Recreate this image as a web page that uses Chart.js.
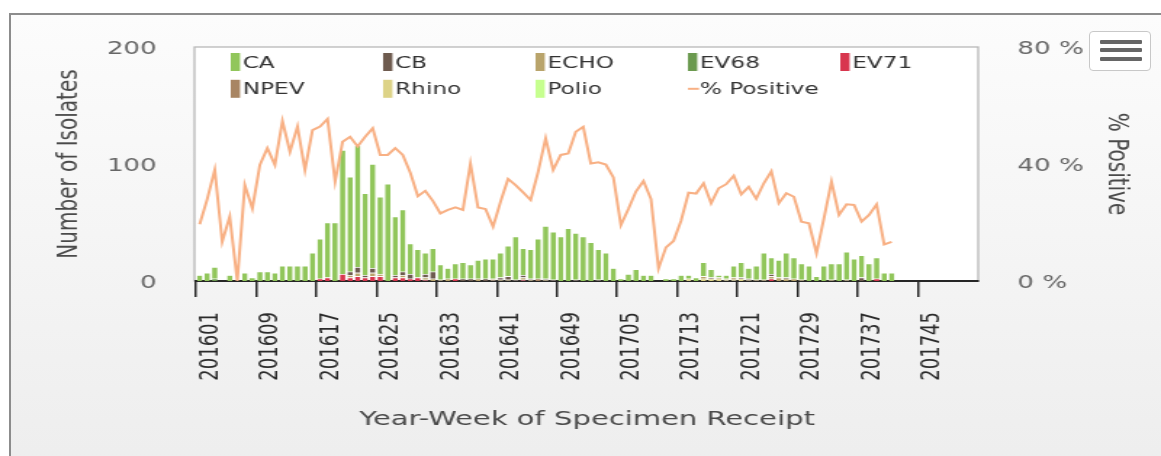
<!DOCTYPE html>
<html>
<head>
<meta charset="utf-8">
<title>Isolates by week of specimen receipt</title>
<script src="https://cdn.jsdelivr.net/npm/chart.js@4.4.1/dist/chart.umd.min.js"></script>
<style>
  html, body { margin: 0; padding: 0; background: #fff; overflow: hidden; }
  body { width: 1161px; height: 456px; position: relative; }
  #frame {
    position: absolute; left: 9px; top: 13px; width: 1200px; height: 500px;
    border-left: 2px solid #8c8c8c; border-top: 2px solid #8c8c8c;
    background: linear-gradient(#fcfcfc, #ececec);
  }
  /* the reference is stretched sideways, so the chart is drawn narrow and widened */
  #wrap {
    position: absolute; left: 0; top: 0; width: 800px; height: 456px;
    transform: scaleX(1.45125); transform-origin: 0 0;
  }
  #menu {
    position: absolute; left: 1089px; top: 31px; width: 62px; height: 40px;
    box-sizing: border-box; border: 1px solid #c8c8c8; border-radius: 4px; background: #fff;
  }
  #menu span { position: absolute; left: 10px; width: 42px; height: 4px; background: #666; border-radius: 1px; }
</style>
</head>
<body>
<div id="frame"></div>
<div id="wrap"><canvas id="chart" width="800" height="456"></canvas></div>
<div id="menu"><span style="top:8px"></span><span style="top:16px"></span><span style="top:25px"></span></div>

<script>
// weeks 201601 .. 201752
const years = [2016, 2017];
const weeks = [];
years.forEach(function (y) {
  for (let w = 1; w <= 52; w++) weeks.push(String(y) + String(w).padStart(2, "0"));
});

// isolates per week, 201601 .. 201741
const CA = [
  5, 7, 10, 0, 5, 0, 7, 3, 8, 8,
  7, 13, 13, 13, 13, 24, 34, 47, 50, 106,
  81, 104, 70, 89, 66, 83, 50, 53, 26, 24,
  18, 20, 13, 9, 13, 14, 12, 16, 17, 17,
  21, 26, 37, 23, 25, 34, 45, 41, 38, 45,
  40, 38, 33, 26, 24, 11, 2, 6, 10, 5,
  5, 0, 2, 2, 5, 3, 3, 12, 7, 2,
  3, 10, 13, 9, 12, 23, 14, 15, 21, 18,
  14, 13, 4, 13, 14, 15, 24, 19, 19, 15,
  18, 7, 7
];
const CB = [
  0, 0, 0, 0, 0, 0, 0, 0, 0, 0,
  0, 0, 0, 0, 0, 0, 0, 0, 0, 0,
  3, 5, 2, 4, 0, 0, 2, 3, 4, 0,
  3, 6, 0, 0, 0, 2, 2, 0, 2, 0,
  2, 3, 1, 2, 1, 0, 1, 1, 0, 0,
  1, 0, 0, 1, 0, 0, 0, 0, 0, 0,
  0, 0, 0, 0, 0, 0, 0, 0, 1, 0,
  0, 0, 1, 1, 0, 0, 2, 0, 1, 0,
  0, 0, 0, 0, 0, 0, 0, 0, 3, 0,
  0, 0, 0
];
const ECHO = [
  0, 0, 0, 0, 0, 0, 0, 0, 0, 0,
  0, 0, 0, 0, 0, 0, 0, 0, 0, 0,
  2, 3, 0, 3, 2, 0, 0, 2, 0, 0,
  2, 2, 1, 2, 0, 0, 0, 2, 0, 1,
  1, 1, 0, 2, 1, 0, 1, 0, 0, 0,
  0, 0, 0, 0, 0, 0, 0, 0, 0, 0,
  0, 0, 0, 0, 0, 0, 0, 2, 0, 1,
  1, 2, 0, 1, 1, 1, 2, 3, 2, 2,
  1, 0, 0, 0, 1, 0, 1, 0, 0, 0,
  0, 0, 0
];
const EV68 = [
  0, 0, 2, 0, 0, 0, 0, 0, 0, 0,
  0, 0, 0, 0, 0, 0, 0, 0, 0, 0,
  0, 0, 0, 0, 0, 0, 0, 0, 0, 0,
  0, 0, 0, 0, 0, 0, 0, 0, 0, 0,
  0, 0, 0, 0, 0, 0, 0, 0, 0, 0,
  0, 0, 0, 0, 0, 0, 0, 0, 0, 0,
  0, 0, 0, 0, 0, 0, 0, 0, 0, 0,
  0, 0, 0, 0, 0, 0, 0, 0, 0, 0,
  0, 0, 0, 0, 0, 0, 0, 0, 0, 0,
  0, 0, 0
];
const EV71 = [
  0, 0, 0, 0, 0, 0, 0, 0, 0, 0,
  0, 0, 0, 0, 0, 0, 2, 3, 0, 6,
  3, 4, 3, 4, 4, 0, 3, 3, 2, 3,
  1, 0, 0, 0, 2, 0, 0, 0, 0, 0,
  0, 0, 0, 1, 0, 0, 0, 0, 0, 0,
  0, 0, 0, 0, 0, 0, 0, 0, 0, 0,
  0, 0, 0, 0, 0, 0, 0, 0, 0, 0,
  0, 0, 0, 0, 0, 0, 2, 0, 0, 0,
  0, 0, 0, 0, 0, 0, 0, 0, 0, 0,
  2, 0, 0
];
const NPEV = [
  0, 0, 0, 0, 0, 0, 0, 0, 0, 0,
  0, 0, 0, 0, 0, 0, 0, 0, 0, 0,
  0, 0, 0, 0, 0, 0, 0, 0, 0, 0,
  0, 0, 0, 0, 0, 0, 0, 0, 0, 1,
  0, 0, 0, 0, 0, 2, 0, 0, 0, 0,
  0, 0, 0, 0, 0, 0, 0, 0, 0, 0,
  0, 0, 0, 0, 0, 0, 0, 0, 0, 0,
  0, 0, 0, 0, 0, 0, 0, 0, 0, 0,
  0, 0, 0, 0, 0, 0, 0, 0, 0, 0,
  0, 0, 0
];
const Rhino = [
  0, 0, 0, 0, 0, 0, 0, 0, 0, 0,
  0, 0, 0, 0, 0, 0, 0, 0, 0, 0,
  0, 0, 0, 0, 0, 0, 0, 0, 0, 0,
  0, 0, 0, 0, 0, 0, 0, 0, 0, 0,
  0, 0, 0, 0, 0, 0, 0, 0, 0, 0,
  0, 0, 0, 0, 0, 0, 0, 0, 0, 0,
  0, 0, 0, 0, 0, 2, 0, 2, 2, 2,
  1, 1, 2, 0, 0, 0, 0, 0, 0, 0,
  0, 0, 0, 0, 0, 0, 0, 0, 0, 0,
  0, 0, 0
];
const Polio = [
  0, 0, 0, 0, 0, 0, 0, 0, 0, 0,
  0, 0, 0, 0, 0, 0, 0, 0, 0, 0,
  0, 0, 0, 0, 0, 0, 0, 0, 0, 0,
  0, 0, 0, 0, 0, 0, 0, 0, 0, 0,
  0, 0, 0, 0, 0, 0, 0, 0, 0, 0,
  0, 0, 0, 0, 0, 0, 0, 0, 0, 0,
  0, 0, 0, 0, 0, 0, 0, 0, 0, 0,
  0, 0, 0, 0, 0, 0, 0, 0, 0, 0,
  0, 0, 0, 0, 0, 0, 0, 0, 0, 0,
  0, 0, 0
];
// % of specimens positive
const pctPositive = [
  19.4, 28, 38, 13.4, 22, 0, 32.8, 24.8, 39.7, 45.4,
  39.7, 54.7, 44.2, 52.8, 38, 51.6, 52.8, 55.4, 34, 47.6,
  49.3, 46, 49.3, 52.2, 43.1, 43.1, 45.4, 43.1, 37, 29,
  30.8, 27.4, 23.1, 24.3, 25.2, 24.3, 40.1, 25.1, 24.6, 18.6,
  27.1, 34.9, 32.8, 30.3, 27.7, 37.4, 48.8, 38, 43.1, 43.6,
  51, 52.7, 40.2, 40.6, 39.8, 35.4, 19.1, 24.6, 30.6, 34.2,
  28, 4.3, 11.5, 13.7, 20.6, 30.2, 29.9, 33.4, 26.6, 31.7,
  33.1, 36, 29.6, 32.2, 28.1, 33.4, 37.5, 26.6, 30, 28.8,
  20.3, 19.7, 9.5, 21.4, 34, 22.6, 26.2, 26, 20.3, 22.6,
  26.2, 12.5, 13.4
];

const legendOrder = ["CA", "CB", "ECHO", "EV68", "EV71", "NPEV", "Rhino", "Polio", "% Positive"];
const FONT = '"DejaVu Sans", sans-serif';

function barSet(label, data, color) {
  return {
    type: "bar",
    label: label,
    data: data,
    backgroundColor: color,
    borderColor: "#ffffff",
    borderWidth: { top: 0.7, bottom: 0, left: 0, right: 0 },
    borderSkipped: false,
    barPercentage: 0.72,
    categoryPercentage: 1,
    yAxisID: "y",
  };
}

// white plot area with a grey frame
const plotBox = {
  id: "plotBox",
  beforeDraw(chart) {
    const ctx = chart.ctx, a = chart.chartArea;
    ctx.save();
    ctx.fillStyle = "#ffffff";
    ctx.fillRect(a.left, a.top, a.width, a.height);
    ctx.strokeStyle = "#b8b8b8";
    ctx.lineWidth = 1.3;
    ctx.strokeRect(a.left - 1, a.top, a.width + 1, a.height);
    ctx.restore();
  },
};

// legend laid out in fixed columns inside the plot, like the original
const gridLegend = {
  id: "gridLegend",
  afterDraw(chart) {
    const ctx = chart.ctx, a = chart.chartArea;
    ctx.save();
    ctx.font = "16px " + FONT;
    ctx.textBaseline = "middle";
    legendOrder.forEach(function (name, k) {
      const ds = chart.data.datasets.find((d) => d.label === name);
      const x = a.left + 24 + (k % 5) * 105;
      const y = a.top + 15 + Math.floor(k / 5) * 26.8;
      if (ds.type === "line") {
        ctx.strokeStyle = ds.borderColor;
        ctx.lineWidth = 2;
        ctx.beginPath();
        ctx.moveTo(x, y);
        ctx.lineTo(x + 7.6, y);
        ctx.stroke();
      } else {
        ctx.fillStyle = ds.backgroundColor;
        ctx.fillRect(x, y - 9, 6.4, 18);
      }
      ctx.fillStyle = "#333333";
      ctx.fillText(name, x + 8.2, y + 1.5);
    });
    ctx.restore();
  },
};

const ctx = document.getElementById("chart").getContext("2d");
new Chart(ctx, {
  data: {
    labels: weeks,
    datasets: [
      {
        type: "line",
        label: "% Positive",
        data: pctPositive,
        borderColor: "#f8b084",
        borderWidth: 2,
        pointRadius: 0,
        tension: 0,
        yAxisID: "y1",
        order: -1,
      },
      // bottom of the stack first
      barSet("Polio", Polio, "#c6ff8f"),
      barSet("Rhino", Rhino, "#ddd387"),
      barSet("NPEV", NPEV, "#a88563"),
      barSet("EV71", EV71, "#d8364e"),
      barSet("EV68", EV68, "#6b9a4f"),
      barSet("ECHO", ECHO, "#b9a46b"),
      barSet("CB", CB, "#6e5b4f"),
      barSet("CA", CA, "#91c65b"),
    ],
  },
  options: {
    responsive: false,
    animation: false,
    layout: { padding: { top: 47, left: 0, right: 0, bottom: 0 } },
    plugins: { legend: { display: false }, tooltip: { enabled: false } },
    scales: {
      x: {
        stacked: true,
        offset: true,
        afterFit: (s) => { s.height = 175; },
        border: { display: true, color: "#262626", width: 2 },
        grid: {
          offset: true,
          drawOnChartArea: false,
          drawTicks: true,
          tickLength: 16,
          lineWidth: 1.5,
          color: (c) => (c.index % 8 === 0 ? "#262626" : "rgba(0,0,0,0)"),
        },
        ticks: {
          autoSkip: false,
          minRotation: 90,
          maxRotation: 90,
          padding: 15,
          labelOffset: 7.5,
          color: "#2b2b2b",
          font: { family: FONT, size: 18 },
          callback: function (v, i) { return i % 8 === 0 ? this.getLabelForValue(v) : ""; },
        },
        title: {
          display: true,
          text: "Year-Week of Specimen Receipt",
          color: "#4a4a4a",
          font: { family: FONT, size: 20 },
          padding: { top: 0, bottom: 24 },
        },
      },
      y: {
        stacked: true,
        position: "left",
        min: 0,
        max: 200,
        afterFit: (s) => { s.width = 135; },
        border: { display: false },
        grid: { display: false, drawTicks: false },
        ticks: { stepSize: 100, padding: 27, labelOffset: 2.5, color: "#666666", font: { family: FONT, size: 18 } },
        title: {
          display: true,
          text: "Number of Isolates",
          color: "#4a4a4a",
          font: { family: FONT, size: 20 },
          padding: { top: 36, bottom: 0 },
        },
      },
      y1: {
        position: "right",
        min: 0,
        max: 80,
        afterFit: (s) => { s.width = 126; },
        border: { display: false },
        grid: { display: false, drawTicks: false },
        ticks: {
          stepSize: 40,
          padding: 27,
          labelOffset: 2.5,
          color: "#666666",
          font: { family: FONT, size: 18 },
          callback: (v) => v + " %",
        },
        title: {
          display: true,
          text: "% Positive",
          color: "#4a4a4a",
          font: { family: FONT, size: 20 },
          padding: { top: 19, bottom: 0 },
        },
      },
    },
  },
  plugins: [plotBox, gridLegend],
});
</script>
</body>
</html>
